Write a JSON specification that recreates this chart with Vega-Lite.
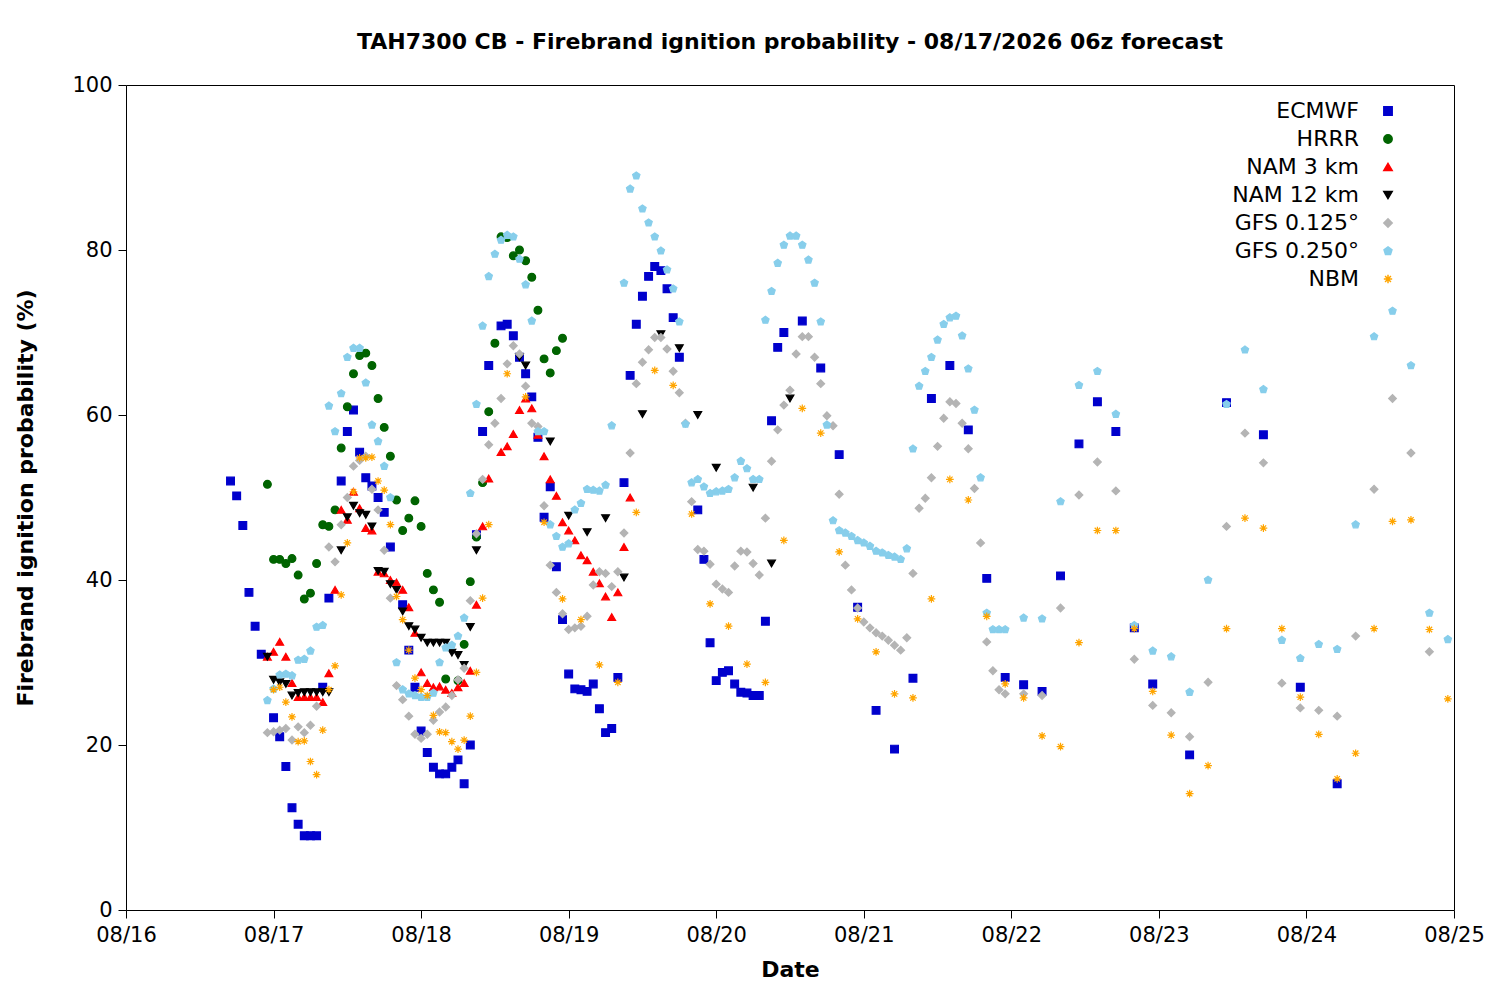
{
  "$schema": "https://vega.github.io/schema/vega-lite/v6.json",
  "width": 1328,
  "height": 825,
  "autosize": {"type": "none"},
  "padding": {"left": 126, "top": 85, "right": 46, "bottom": 90},
  "background": "white",
  "config": {
    "font": "DejaVu Sans",
    "view": {"stroke": "black", "strokeWidth": 1},
    "axis": {"grid": false, "domain": false, "labelFontSize": 21, "titleFontSize": 22, "titleFontWeight": "bold", "labelColor": "black", "titleColor": "black", "tickColor": "black", "tickSize": 8, "labelPadding": 6, "labelFlush": false}
  },
  "title": {"text": "TAH7300 CB - Firebrand ignition probability - 08/17/2026 06z forecast", "fontSize": 22, "fontWeight": "bold", "offset": 20, "color": "black"},
  "data": {"values": [
    {"m":"ECMWF","h":17,"v":52},{"m":"ECMWF","h":18,"v":50.2},{"m":"ECMWF","h":19,"v":46.6},{"m":"ECMWF","h":20,"v":38.5},{"m":"ECMWF","h":21,"v":34.4},{"m":"ECMWF","h":22,"v":31},{"m":"ECMWF","h":24,"v":23.3},{"m":"ECMWF","h":25,"v":21},{"m":"ECMWF","h":26,"v":17.4},{"m":"ECMWF","h":27,"v":12.4},{"m":"ECMWF","h":28,"v":10.4},{"m":"ECMWF","h":29,"v":9},{"m":"ECMWF","h":30,"v":9},{"m":"ECMWF","h":31,"v":9},{"m":"ECMWF","h":32,"v":27},{"m":"ECMWF","h":33,"v":37.8},{"m":"ECMWF","h":35,"v":52},{"m":"ECMWF","h":36,"v":58},{"m":"ECMWF","h":37,"v":60.6},{"m":"ECMWF","h":38,"v":55.5},{"m":"ECMWF","h":39,"v":52.4},{"m":"ECMWF","h":40,"v":51.4},{"m":"ECMWF","h":41,"v":50},{"m":"ECMWF","h":42,"v":48.2},{"m":"ECMWF","h":43,"v":44},{"m":"ECMWF","h":45,"v":37},{"m":"ECMWF","h":46,"v":31.5},{"m":"ECMWF","h":47,"v":27},{"m":"ECMWF","h":48,"v":21.7},{"m":"ECMWF","h":49,"v":19.1},{"m":"ECMWF","h":50,"v":17.3},{"m":"ECMWF","h":51,"v":16.5},{"m":"ECMWF","h":52,"v":16.5},{"m":"ECMWF","h":53,"v":17.3},{"m":"ECMWF","h":54,"v":18.2},{"m":"ECMWF","h":55,"v":15.3},{"m":"ECMWF","h":56,"v":20},{"m":"ECMWF","h":57,"v":45.5},{"m":"ECMWF","h":58,"v":58},{"m":"ECMWF","h":59,"v":66},{"m":"ECMWF","h":61,"v":70.8},{"m":"ECMWF","h":62,"v":71},{"m":"ECMWF","h":63,"v":69.6},{"m":"ECMWF","h":64,"v":67},{"m":"ECMWF","h":65,"v":65},{"m":"ECMWF","h":66,"v":62.2},{"m":"ECMWF","h":67,"v":57.3},{"m":"ECMWF","h":68,"v":47.6},{"m":"ECMWF","h":69,"v":51.3},{"m":"ECMWF","h":70,"v":41.6},{"m":"ECMWF","h":71,"v":35.2},{"m":"ECMWF","h":72,"v":28.6},{"m":"ECMWF","h":73,"v":26.8},{"m":"ECMWF","h":74,"v":26.7},{"m":"ECMWF","h":75,"v":26.5},{"m":"ECMWF","h":76,"v":27.4},{"m":"ECMWF","h":77,"v":24.4},{"m":"ECMWF","h":78,"v":21.5},{"m":"ECMWF","h":79,"v":22},{"m":"ECMWF","h":80,"v":28.2},{"m":"ECMWF","h":81,"v":51.8},{"m":"ECMWF","h":82,"v":64.8},{"m":"ECMWF","h":83,"v":71},{"m":"ECMWF","h":84,"v":74.4},{"m":"ECMWF","h":85,"v":76.8},{"m":"ECMWF","h":86,"v":78},{"m":"ECMWF","h":87,"v":77.5},{"m":"ECMWF","h":88,"v":75.3},{"m":"ECMWF","h":89,"v":71.8},{"m":"ECMWF","h":90,"v":67},{"m":"ECMWF","h":93,"v":48.5},{"m":"ECMWF","h":94,"v":42.5},{"m":"ECMWF","h":95,"v":32.4},{"m":"ECMWF","h":96,"v":27.8},{"m":"ECMWF","h":97,"v":28.8},{"m":"ECMWF","h":98,"v":29},{"m":"ECMWF","h":99,"v":27.4},{"m":"ECMWF","h":100,"v":26.4},{"m":"ECMWF","h":101,"v":26.3},{"m":"ECMWF","h":102,"v":26},{"m":"ECMWF","h":103,"v":26},{"m":"ECMWF","h":104,"v":35},{"m":"ECMWF","h":105,"v":59.3},{"m":"ECMWF","h":106,"v":68.2},{"m":"ECMWF","h":107,"v":70},{"m":"ECMWF","h":110,"v":71.4},{"m":"ECMWF","h":113,"v":65.7},{"m":"ECMWF","h":116,"v":55.2},{"m":"ECMWF","h":119,"v":36.7},{"m":"ECMWF","h":122,"v":24.2},{"m":"ECMWF","h":125,"v":19.5},{"m":"ECMWF","h":128,"v":28.1},{"m":"ECMWF","h":131,"v":62},{"m":"ECMWF","h":134,"v":66},{"m":"ECMWF","h":137,"v":58.2},{"m":"ECMWF","h":140,"v":40.2},{"m":"ECMWF","h":143,"v":28.2},{"m":"ECMWF","h":146,"v":27.3},{"m":"ECMWF","h":149,"v":26.5},{"m":"ECMWF","h":152,"v":40.5},{"m":"ECMWF","h":155,"v":56.5},{"m":"ECMWF","h":158,"v":61.6},{"m":"ECMWF","h":161,"v":58},{"m":"ECMWF","h":164,"v":34.2},{"m":"ECMWF","h":167,"v":27.4},{"m":"ECMWF","h":173,"v":18.8},{"m":"ECMWF","h":179,"v":61.5},{"m":"ECMWF","h":185,"v":57.6},{"m":"ECMWF","h":191,"v":27},{"m":"ECMWF","h":197,"v":15.3},

    {"m":"HRRR","h":23,"v":51.6},{"m":"HRRR","h":24,"v":42.5},{"m":"HRRR","h":25,"v":42.5},{"m":"HRRR","h":26,"v":42},{"m":"HRRR","h":27,"v":42.6},{"m":"HRRR","h":28,"v":40.6},{"m":"HRRR","h":29,"v":37.7},{"m":"HRRR","h":30,"v":38.4},{"m":"HRRR","h":31,"v":42},{"m":"HRRR","h":32,"v":46.7},{"m":"HRRR","h":33,"v":46.5},{"m":"HRRR","h":34,"v":48.5},{"m":"HRRR","h":35,"v":56},{"m":"HRRR","h":36,"v":61},{"m":"HRRR","h":37,"v":65},{"m":"HRRR","h":38,"v":67.2},{"m":"HRRR","h":39,"v":67.5},{"m":"HRRR","h":40,"v":66},{"m":"HRRR","h":41,"v":62},{"m":"HRRR","h":42,"v":58.5},{"m":"HRRR","h":43,"v":55},{"m":"HRRR","h":44,"v":49.7},{"m":"HRRR","h":45,"v":46},{"m":"HRRR","h":46,"v":47.5},{"m":"HRRR","h":47,"v":49.6},{"m":"HRRR","h":48,"v":46.5},{"m":"HRRR","h":49,"v":40.8},{"m":"HRRR","h":50,"v":38.8},{"m":"HRRR","h":51,"v":37.3},{"m":"HRRR","h":52,"v":28},{"m":"HRRR","h":54,"v":27.8},{"m":"HRRR","h":55,"v":32.2},{"m":"HRRR","h":56,"v":39.8},{"m":"HRRR","h":57,"v":45.2},{"m":"HRRR","h":58,"v":51.8},{"m":"HRRR","h":59,"v":60.4},{"m":"HRRR","h":60,"v":68.7},{"m":"HRRR","h":61,"v":81.6},{"m":"HRRR","h":62,"v":81.5},{"m":"HRRR","h":63,"v":79.3},{"m":"HRRR","h":64,"v":80},{"m":"HRRR","h":65,"v":78.7},{"m":"HRRR","h":66,"v":76.7},{"m":"HRRR","h":67,"v":72.7},{"m":"HRRR","h":68,"v":66.8},{"m":"HRRR","h":69,"v":65.1},{"m":"HRRR","h":70,"v":67.8},{"m":"HRRR","h":71,"v":69.3},

    {"m":"NAM 3 km","h":23,"v":30.7},{"m":"NAM 3 km","h":24,"v":31.3},{"m":"NAM 3 km","h":25,"v":32.5},{"m":"NAM 3 km","h":26,"v":30.7},{"m":"NAM 3 km","h":27,"v":27.5},{"m":"NAM 3 km","h":28,"v":25.8},{"m":"NAM 3 km","h":29,"v":25.8},{"m":"NAM 3 km","h":30,"v":25.8},{"m":"NAM 3 km","h":31,"v":25.8},{"m":"NAM 3 km","h":32,"v":25.2},{"m":"NAM 3 km","h":33,"v":28.7},{"m":"NAM 3 km","h":34,"v":38.8},{"m":"NAM 3 km","h":35,"v":48.5},{"m":"NAM 3 km","h":36,"v":47.3},{"m":"NAM 3 km","h":37,"v":50.7},{"m":"NAM 3 km","h":38,"v":48.7},{"m":"NAM 3 km","h":39,"v":46.3},{"m":"NAM 3 km","h":40,"v":46},{"m":"NAM 3 km","h":41,"v":41},{"m":"NAM 3 km","h":42,"v":40.8},{"m":"NAM 3 km","h":43,"v":40},{"m":"NAM 3 km","h":44,"v":39.7},{"m":"NAM 3 km","h":45,"v":38.8},{"m":"NAM 3 km","h":46,"v":36.7},{"m":"NAM 3 km","h":47,"v":33.6},{"m":"NAM 3 km","h":48,"v":28.8},{"m":"NAM 3 km","h":49,"v":27.5},{"m":"NAM 3 km","h":50,"v":27},{"m":"NAM 3 km","h":51,"v":27.1},{"m":"NAM 3 km","h":52,"v":26.7},{"m":"NAM 3 km","h":53,"v":26.3},{"m":"NAM 3 km","h":54,"v":27},{"m":"NAM 3 km","h":55,"v":27.5},{"m":"NAM 3 km","h":56,"v":29},{"m":"NAM 3 km","h":57,"v":37},{"m":"NAM 3 km","h":58,"v":46.5},{"m":"NAM 3 km","h":59,"v":52.3},{"m":"NAM 3 km","h":61,"v":55.5},{"m":"NAM 3 km","h":62,"v":56.2},{"m":"NAM 3 km","h":63,"v":57.7},{"m":"NAM 3 km","h":64,"v":60.6},{"m":"NAM 3 km","h":65,"v":62},{"m":"NAM 3 km","h":66,"v":60.8},{"m":"NAM 3 km","h":67,"v":57.6},{"m":"NAM 3 km","h":68,"v":55},{"m":"NAM 3 km","h":69,"v":52.2},{"m":"NAM 3 km","h":70,"v":50.2},{"m":"NAM 3 km","h":71,"v":47},{"m":"NAM 3 km","h":72,"v":46},{"m":"NAM 3 km","h":73,"v":44.8},{"m":"NAM 3 km","h":74,"v":43},{"m":"NAM 3 km","h":75,"v":42.4},{"m":"NAM 3 km","h":76,"v":41},{"m":"NAM 3 km","h":77,"v":39.6},{"m":"NAM 3 km","h":78,"v":38},{"m":"NAM 3 km","h":79,"v":35.5},{"m":"NAM 3 km","h":80,"v":38.5},{"m":"NAM 3 km","h":81,"v":44},{"m":"NAM 3 km","h":82,"v":50},

    {"m":"NAM 12 km","h":23,"v":30.7},{"m":"NAM 12 km","h":24,"v":27.9},{"m":"NAM 12 km","h":25,"v":27.6},{"m":"NAM 12 km","h":26,"v":27.4},{"m":"NAM 12 km","h":27,"v":26},{"m":"NAM 12 km","h":28,"v":26.3},{"m":"NAM 12 km","h":29,"v":26.4},{"m":"NAM 12 km","h":30,"v":26.4},{"m":"NAM 12 km","h":31,"v":26.4},{"m":"NAM 12 km","h":32,"v":26.4},{"m":"NAM 12 km","h":33,"v":26.4},{"m":"NAM 12 km","h":35,"v":43.6},{"m":"NAM 12 km","h":36,"v":47.6},{"m":"NAM 12 km","h":37,"v":49},{"m":"NAM 12 km","h":38,"v":48.1},{"m":"NAM 12 km","h":39,"v":47.9},{"m":"NAM 12 km","h":40,"v":46.5},{"m":"NAM 12 km","h":41,"v":41.1},{"m":"NAM 12 km","h":42,"v":41},{"m":"NAM 12 km","h":43,"v":39.5},{"m":"NAM 12 km","h":44,"v":38.8},{"m":"NAM 12 km","h":45,"v":36.2},{"m":"NAM 12 km","h":46,"v":34.4},{"m":"NAM 12 km","h":47,"v":34},{"m":"NAM 12 km","h":48,"v":33},{"m":"NAM 12 km","h":49,"v":32.4},{"m":"NAM 12 km","h":50,"v":32.4},{"m":"NAM 12 km","h":51,"v":32.4},{"m":"NAM 12 km","h":52,"v":32.4},{"m":"NAM 12 km","h":53,"v":31.2},{"m":"NAM 12 km","h":54,"v":30.9},{"m":"NAM 12 km","h":55,"v":29.7},{"m":"NAM 12 km","h":56,"v":34.3},{"m":"NAM 12 km","h":57,"v":43.6},{"m":"NAM 12 km","h":64,"v":67},{"m":"NAM 12 km","h":65,"v":66},{"m":"NAM 12 km","h":69,"v":56.8},{"m":"NAM 12 km","h":72,"v":47.8},{"m":"NAM 12 km","h":75,"v":45.8},{"m":"NAM 12 km","h":78,"v":47.5},{"m":"NAM 12 km","h":81,"v":40.3},{"m":"NAM 12 km","h":84,"v":60.1},{"m":"NAM 12 km","h":87,"v":69.8},{"m":"NAM 12 km","h":90,"v":68.1},{"m":"NAM 12 km","h":93,"v":60},{"m":"NAM 12 km","h":96,"v":53.6},{"m":"NAM 12 km","h":102,"v":51.2},{"m":"NAM 12 km","h":105,"v":42},{"m":"NAM 12 km","h":108,"v":62},

    {"m":"GFS 0.125°","h":23,"v":21.5},{"m":"GFS 0.125°","h":24,"v":21.6},{"m":"GFS 0.125°","h":25,"v":21.8},{"m":"GFS 0.125°","h":26,"v":22},{"m":"GFS 0.125°","h":27,"v":20.6},{"m":"GFS 0.125°","h":28,"v":22.2},{"m":"GFS 0.125°","h":29,"v":21.5},{"m":"GFS 0.125°","h":30,"v":22.4},{"m":"GFS 0.125°","h":31,"v":24.7},
    {"m":"GFS 0.125°","h":33,"v":44},{"m":"GFS 0.125°","h":34,"v":42.2},{"m":"GFS 0.125°","h":35,"v":46.7},{"m":"GFS 0.125°","h":36,"v":50},{"m":"GFS 0.125°","h":37,"v":53.8},{"m":"GFS 0.125°","h":38,"v":54.5},{"m":"GFS 0.125°","h":39,"v":55},{"m":"GFS 0.125°","h":40,"v":51},{"m":"GFS 0.125°","h":41,"v":48.5},{"m":"GFS 0.125°","h":42,"v":43.6},
    {"m":"GFS 0.125°","h":43,"v":37.8},{"m":"GFS 0.125°","h":44,"v":27.2},{"m":"GFS 0.125°","h":45,"v":25.5},{"m":"GFS 0.125°","h":46,"v":23.5},{"m":"GFS 0.125°","h":47,"v":21.3},{"m":"GFS 0.125°","h":48,"v":20.8},{"m":"GFS 0.125°","h":49,"v":21.3},{"m":"GFS 0.125°","h":50,"v":23},{"m":"GFS 0.125°","h":51,"v":24},{"m":"GFS 0.125°","h":52,"v":24.6},
    {"m":"GFS 0.125°","h":53,"v":26},{"m":"GFS 0.125°","h":54,"v":27.9},{"m":"GFS 0.125°","h":55,"v":29.3},{"m":"GFS 0.125°","h":56,"v":37.5},{"m":"GFS 0.125°","h":57,"v":45.6},{"m":"GFS 0.125°","h":58,"v":52.2},{"m":"GFS 0.125°","h":59,"v":56.4},{"m":"GFS 0.125°","h":60,"v":59},{"m":"GFS 0.125°","h":61,"v":62},{"m":"GFS 0.125°","h":62,"v":66.2},
    {"m":"GFS 0.125°","h":63,"v":68.4},{"m":"GFS 0.125°","h":64,"v":67.4},{"m":"GFS 0.125°","h":65,"v":63.5},{"m":"GFS 0.125°","h":66,"v":59},{"m":"GFS 0.125°","h":67,"v":58.6},{"m":"GFS 0.125°","h":68,"v":49},{"m":"GFS 0.125°","h":69,"v":41.8},{"m":"GFS 0.125°","h":70,"v":38.5},{"m":"GFS 0.125°","h":71,"v":35.9},{"m":"GFS 0.125°","h":72,"v":34},
    {"m":"GFS 0.125°","h":73,"v":34.2},{"m":"GFS 0.125°","h":74,"v":34.4},{"m":"GFS 0.125°","h":75,"v":35.6},{"m":"GFS 0.125°","h":76,"v":39.4},{"m":"GFS 0.125°","h":77,"v":41},{"m":"GFS 0.125°","h":78,"v":40.8},{"m":"GFS 0.125°","h":79,"v":39.2},{"m":"GFS 0.125°","h":80,"v":41},{"m":"GFS 0.125°","h":81,"v":45.7},{"m":"GFS 0.125°","h":82,"v":55.4},
    {"m":"GFS 0.125°","h":83,"v":63.8},{"m":"GFS 0.125°","h":84,"v":66.4},{"m":"GFS 0.125°","h":85,"v":67.9},{"m":"GFS 0.125°","h":86,"v":69.4},{"m":"GFS 0.125°","h":87,"v":69.4},{"m":"GFS 0.125°","h":88,"v":68},{"m":"GFS 0.125°","h":89,"v":65.3},{"m":"GFS 0.125°","h":90,"v":62.7},{"m":"GFS 0.125°","h":91,"v":59},{"m":"GFS 0.125°","h":92,"v":49.5},
    {"m":"GFS 0.125°","h":93,"v":43.7},{"m":"GFS 0.125°","h":94,"v":43.5},{"m":"GFS 0.125°","h":95,"v":41.9},{"m":"GFS 0.125°","h":96,"v":39.5},{"m":"GFS 0.125°","h":97,"v":38.9},{"m":"GFS 0.125°","h":98,"v":38.5},{"m":"GFS 0.125°","h":99,"v":41.7},{"m":"GFS 0.125°","h":100,"v":43.5},{"m":"GFS 0.125°","h":101,"v":43.4},{"m":"GFS 0.125°","h":102,"v":42},
    {"m":"GFS 0.125°","h":103,"v":40.6},{"m":"GFS 0.125°","h":104,"v":47.5},{"m":"GFS 0.125°","h":105,"v":54.4},{"m":"GFS 0.125°","h":106,"v":58.2},{"m":"GFS 0.125°","h":107,"v":61.2},{"m":"GFS 0.125°","h":108,"v":63},{"m":"GFS 0.125°","h":109,"v":67.4},{"m":"GFS 0.125°","h":110,"v":69.5},{"m":"GFS 0.125°","h":111,"v":69.5},{"m":"GFS 0.125°","h":112,"v":67},
    {"m":"GFS 0.125°","h":113,"v":63.8},{"m":"GFS 0.125°","h":114,"v":59.9},{"m":"GFS 0.125°","h":115,"v":58.7},{"m":"GFS 0.125°","h":116,"v":50.4},{"m":"GFS 0.125°","h":117,"v":41.8},{"m":"GFS 0.125°","h":118,"v":38.8},{"m":"GFS 0.125°","h":119,"v":36.6},{"m":"GFS 0.125°","h":120,"v":34.9},{"m":"GFS 0.125°","h":121,"v":34.2},{"m":"GFS 0.125°","h":122,"v":33.6},
    {"m":"GFS 0.125°","h":123,"v":33.2},{"m":"GFS 0.125°","h":124,"v":32.7},{"m":"GFS 0.125°","h":125,"v":32.1},{"m":"GFS 0.125°","h":126,"v":31.5},{"m":"GFS 0.125°","h":127,"v":33},{"m":"GFS 0.125°","h":128,"v":40.8},{"m":"GFS 0.125°","h":129,"v":48.7},{"m":"GFS 0.125°","h":130,"v":49.9},{"m":"GFS 0.125°","h":131,"v":52.4},{"m":"GFS 0.125°","h":132,"v":56.2},
    {"m":"GFS 0.125°","h":133,"v":59.6},{"m":"GFS 0.125°","h":134,"v":61.6},{"m":"GFS 0.125°","h":135,"v":61.4},{"m":"GFS 0.125°","h":136,"v":59},{"m":"GFS 0.125°","h":137,"v":55.9},{"m":"GFS 0.125°","h":138,"v":51.1},{"m":"GFS 0.125°","h":139,"v":44.5},
    {"m":"GFS 0.125°","h":140,"v":32.5},{"m":"GFS 0.125°","h":141,"v":29},{"m":"GFS 0.125°","h":142,"v":26.7},{"m":"GFS 0.125°","h":143,"v":26.2},{"m":"GFS 0.125°","h":146,"v":26.2},{"m":"GFS 0.125°","h":149,"v":26},{"m":"GFS 0.125°","h":152,"v":36.6},{"m":"GFS 0.125°","h":155,"v":50.3},{"m":"GFS 0.125°","h":158,"v":54.3},{"m":"GFS 0.125°","h":161,"v":50.8},{"m":"GFS 0.125°","h":164,"v":30.4},{"m":"GFS 0.125°","h":167,"v":24.8},{"m":"GFS 0.125°","h":170,"v":23.9},{"m":"GFS 0.125°","h":173,"v":21},{"m":"GFS 0.125°","h":176,"v":27.6},{"m":"GFS 0.125°","h":179,"v":46.5},{"m":"GFS 0.125°","h":182,"v":57.8},{"m":"GFS 0.125°","h":185,"v":54.2},{"m":"GFS 0.125°","h":188,"v":27.5},{"m":"GFS 0.125°","h":191,"v":24.5},{"m":"GFS 0.125°","h":194,"v":24.2},{"m":"GFS 0.125°","h":197,"v":23.5},{"m":"GFS 0.125°","h":200,"v":33.2},{"m":"GFS 0.125°","h":203,"v":51},{"m":"GFS 0.125°","h":206,"v":62},{"m":"GFS 0.125°","h":209,"v":55.4},{"m":"GFS 0.125°","h":212,"v":31.3},

    {"m":"GFS 0.250°","h":23,"v":25.4},{"m":"GFS 0.250°","h":24,"v":26.8},{"m":"GFS 0.250°","h":25,"v":28.5},{"m":"GFS 0.250°","h":26,"v":28.6},{"m":"GFS 0.250°","h":27,"v":28.4},{"m":"GFS 0.250°","h":28,"v":30.3},{"m":"GFS 0.250°","h":29,"v":30.4},{"m":"GFS 0.250°","h":30,"v":31.4},{"m":"GFS 0.250°","h":31,"v":34.3},{"m":"GFS 0.250°","h":32,"v":34.5},
    {"m":"GFS 0.250°","h":33,"v":61.1},{"m":"GFS 0.250°","h":34,"v":58},{"m":"GFS 0.250°","h":35,"v":62.6},{"m":"GFS 0.250°","h":36,"v":67},{"m":"GFS 0.250°","h":37,"v":68.1},{"m":"GFS 0.250°","h":38,"v":68.1},{"m":"GFS 0.250°","h":39,"v":63.9},{"m":"GFS 0.250°","h":40,"v":58.8},{"m":"GFS 0.250°","h":41,"v":56.8},{"m":"GFS 0.250°","h":42,"v":53.8},
    {"m":"GFS 0.250°","h":43,"v":50},{"m":"GFS 0.250°","h":44,"v":30},{"m":"GFS 0.250°","h":45,"v":26.7},{"m":"GFS 0.250°","h":46,"v":26.2},{"m":"GFS 0.250°","h":47,"v":26},{"m":"GFS 0.250°","h":48,"v":25.8},{"m":"GFS 0.250°","h":49,"v":25.8},{"m":"GFS 0.250°","h":50,"v":26.3},{"m":"GFS 0.250°","h":51,"v":30},{"m":"GFS 0.250°","h":52,"v":31.8},
    {"m":"GFS 0.250°","h":53,"v":32.1},{"m":"GFS 0.250°","h":54,"v":33.2},{"m":"GFS 0.250°","h":55,"v":35.4},{"m":"GFS 0.250°","h":56,"v":50.5},{"m":"GFS 0.250°","h":57,"v":61.3},{"m":"GFS 0.250°","h":58,"v":70.8},{"m":"GFS 0.250°","h":59,"v":76.8},{"m":"GFS 0.250°","h":60,"v":79.5},{"m":"GFS 0.250°","h":61,"v":81.2},{"m":"GFS 0.250°","h":62,"v":81.8},
    {"m":"GFS 0.250°","h":63,"v":81.6},{"m":"GFS 0.250°","h":64,"v":78.9},{"m":"GFS 0.250°","h":65,"v":75.8},{"m":"GFS 0.250°","h":66,"v":71.4},{"m":"GFS 0.250°","h":67,"v":58},{"m":"GFS 0.250°","h":68,"v":58},{"m":"GFS 0.250°","h":69,"v":46.7},{"m":"GFS 0.250°","h":70,"v":45.3},{"m":"GFS 0.250°","h":71,"v":44},{"m":"GFS 0.250°","h":72,"v":44.4},
    {"m":"GFS 0.250°","h":73,"v":48.5},{"m":"GFS 0.250°","h":74,"v":49.3},{"m":"GFS 0.250°","h":75,"v":51},{"m":"GFS 0.250°","h":76,"v":50.9},{"m":"GFS 0.250°","h":77,"v":50.8},{"m":"GFS 0.250°","h":78,"v":51.5},{"m":"GFS 0.250°","h":79,"v":58.7},
    {"m":"GFS 0.250°","h":81,"v":76},{"m":"GFS 0.250°","h":82,"v":87.4},{"m":"GFS 0.250°","h":83,"v":89},{"m":"GFS 0.250°","h":84,"v":85},{"m":"GFS 0.250°","h":85,"v":83.3},{"m":"GFS 0.250°","h":86,"v":81.6},{"m":"GFS 0.250°","h":87,"v":79.9},{"m":"GFS 0.250°","h":88,"v":77.6},{"m":"GFS 0.250°","h":89,"v":75.3},{"m":"GFS 0.250°","h":90,"v":71.3},
    {"m":"GFS 0.250°","h":91,"v":58.9},{"m":"GFS 0.250°","h":92,"v":51.8},{"m":"GFS 0.250°","h":93,"v":52.2},{"m":"GFS 0.250°","h":94,"v":51.3},{"m":"GFS 0.250°","h":95,"v":50.5},{"m":"GFS 0.250°","h":96,"v":50.7},{"m":"GFS 0.250°","h":97,"v":50.8},{"m":"GFS 0.250°","h":98,"v":51},{"m":"GFS 0.250°","h":99,"v":52.4},{"m":"GFS 0.250°","h":100,"v":54.4},
    {"m":"GFS 0.250°","h":101,"v":53.5},{"m":"GFS 0.250°","h":102,"v":52.2},{"m":"GFS 0.250°","h":103,"v":52.2},{"m":"GFS 0.250°","h":104,"v":71.5},{"m":"GFS 0.250°","h":105,"v":75},{"m":"GFS 0.250°","h":106,"v":78.4},{"m":"GFS 0.250°","h":107,"v":80.6},{"m":"GFS 0.250°","h":108,"v":81.7},{"m":"GFS 0.250°","h":109,"v":81.7},{"m":"GFS 0.250°","h":110,"v":80.6},
    {"m":"GFS 0.250°","h":111,"v":78.8},{"m":"GFS 0.250°","h":112,"v":76},{"m":"GFS 0.250°","h":113,"v":71.3},{"m":"GFS 0.250°","h":114,"v":58.8},{"m":"GFS 0.250°","h":115,"v":47.2},{"m":"GFS 0.250°","h":116,"v":46},{"m":"GFS 0.250°","h":117,"v":45.7},{"m":"GFS 0.250°","h":118,"v":45.3},{"m":"GFS 0.250°","h":119,"v":44.8},{"m":"GFS 0.250°","h":120,"v":44.5},
    {"m":"GFS 0.250°","h":121,"v":44.1},{"m":"GFS 0.250°","h":122,"v":43.5},{"m":"GFS 0.250°","h":123,"v":43.3},{"m":"GFS 0.250°","h":124,"v":43},{"m":"GFS 0.250°","h":125,"v":42.8},{"m":"GFS 0.250°","h":126,"v":42.5},{"m":"GFS 0.250°","h":127,"v":43.8},{"m":"GFS 0.250°","h":128,"v":55.9},{"m":"GFS 0.250°","h":129,"v":63.5},{"m":"GFS 0.250°","h":130,"v":65.3},
    {"m":"GFS 0.250°","h":131,"v":67},{"m":"GFS 0.250°","h":132,"v":69.1},{"m":"GFS 0.250°","h":133,"v":71},{"m":"GFS 0.250°","h":134,"v":71.8},{"m":"GFS 0.250°","h":135,"v":72},{"m":"GFS 0.250°","h":136,"v":69.6},{"m":"GFS 0.250°","h":137,"v":65.6},{"m":"GFS 0.250°","h":138,"v":60.6},{"m":"GFS 0.250°","h":139,"v":52.4},
    {"m":"GFS 0.250°","h":140,"v":36},{"m":"GFS 0.250°","h":141,"v":34},{"m":"GFS 0.250°","h":142,"v":34},{"m":"GFS 0.250°","h":143,"v":34},{"m":"GFS 0.250°","h":146,"v":35.4},{"m":"GFS 0.250°","h":149,"v":35.3},{"m":"GFS 0.250°","h":152,"v":49.5},{"m":"GFS 0.250°","h":155,"v":63.6},{"m":"GFS 0.250°","h":158,"v":65.3},{"m":"GFS 0.250°","h":161,"v":60.1},{"m":"GFS 0.250°","h":164,"v":34.5},{"m":"GFS 0.250°","h":167,"v":31.4},{"m":"GFS 0.250°","h":170,"v":30.7},{"m":"GFS 0.250°","h":173,"v":26.4},{"m":"GFS 0.250°","h":176,"v":40},{"m":"GFS 0.250°","h":179,"v":61.3},{"m":"GFS 0.250°","h":182,"v":67.9},{"m":"GFS 0.250°","h":185,"v":63.1},{"m":"GFS 0.250°","h":188,"v":32.7},{"m":"GFS 0.250°","h":191,"v":30.5},{"m":"GFS 0.250°","h":194,"v":32.2},{"m":"GFS 0.250°","h":197,"v":31.6},{"m":"GFS 0.250°","h":200,"v":46.7},{"m":"GFS 0.250°","h":203,"v":69.5},{"m":"GFS 0.250°","h":206,"v":72.6},{"m":"GFS 0.250°","h":209,"v":66},{"m":"GFS 0.250°","h":212,"v":36},{"m":"GFS 0.250°","h":215,"v":32.8},

    {"m":"NBM","h":24,"v":26.7},{"m":"NBM","h":25,"v":27},{"m":"NBM","h":26,"v":25.2},{"m":"NBM","h":27,"v":23.4},{"m":"NBM","h":28,"v":20.4},{"m":"NBM","h":29,"v":20.5},{"m":"NBM","h":30,"v":18},{"m":"NBM","h":31,"v":16.4},{"m":"NBM","h":32,"v":21.8},{"m":"NBM","h":33,"v":26.7},{"m":"NBM","h":34,"v":29.6},{"m":"NBM","h":35,"v":38.2},{"m":"NBM","h":36,"v":44.5},{"m":"NBM","h":37,"v":50.7},{"m":"NBM","h":38,"v":54.8},{"m":"NBM","h":39,"v":54.8},{"m":"NBM","h":40,"v":54.9},{"m":"NBM","h":41,"v":52},{"m":"NBM","h":42,"v":50.9},{"m":"NBM","h":43,"v":46.7},{"m":"NBM","h":44,"v":38},{"m":"NBM","h":45,"v":35.2},{"m":"NBM","h":46,"v":31.5},{"m":"NBM","h":47,"v":28.1},{"m":"NBM","h":48,"v":26.7},{"m":"NBM","h":49,"v":26},{"m":"NBM","h":50,"v":23.6},{"m":"NBM","h":51,"v":21.6},{"m":"NBM","h":52,"v":21.5},{"m":"NBM","h":53,"v":20.4},{"m":"NBM","h":54,"v":19.5},{"m":"NBM","h":55,"v":20.6},{"m":"NBM","h":56,"v":23.5},{"m":"NBM","h":57,"v":28.8},{"m":"NBM","h":58,"v":37.8},{"m":"NBM","h":59,"v":46.7},
    {"m":"NBM","h":62,"v":65},{"m":"NBM","h":65,"v":62.2},{"m":"NBM","h":68,"v":47},{"m":"NBM","h":71,"v":37.7},{"m":"NBM","h":74,"v":35.2},{"m":"NBM","h":77,"v":29.7},{"m":"NBM","h":80,"v":27.6},{"m":"NBM","h":83,"v":48.2},{"m":"NBM","h":86,"v":65.4},{"m":"NBM","h":89,"v":63.6},{"m":"NBM","h":92,"v":48},{"m":"NBM","h":95,"v":37.1},{"m":"NBM","h":98,"v":34.4},{"m":"NBM","h":101,"v":29.8},{"m":"NBM","h":104,"v":27.6},{"m":"NBM","h":107,"v":44.8},{"m":"NBM","h":110,"v":60.8},{"m":"NBM","h":113,"v":57.8},{"m":"NBM","h":116,"v":43.4},{"m":"NBM","h":119,"v":35.3},{"m":"NBM","h":122,"v":31.3},{"m":"NBM","h":125,"v":26.2},{"m":"NBM","h":128,"v":25.7},{"m":"NBM","h":131,"v":37.7},{"m":"NBM","h":134,"v":52.2},{"m":"NBM","h":137,"v":49.7},{"m":"NBM","h":140,"v":35.6},{"m":"NBM","h":143,"v":27.4},{"m":"NBM","h":146,"v":25.7},{"m":"NBM","h":149,"v":21.1},{"m":"NBM","h":152,"v":19.8},{"m":"NBM","h":155,"v":32.4},{"m":"NBM","h":158,"v":46},{"m":"NBM","h":161,"v":46},{"m":"NBM","h":164,"v":34.1},{"m":"NBM","h":167,"v":26.5},{"m":"NBM","h":170,"v":21.2},{"m":"NBM","h":173,"v":14.1},{"m":"NBM","h":176,"v":17.5},{"m":"NBM","h":179,"v":34.1},{"m":"NBM","h":182,"v":47.5},{"m":"NBM","h":185,"v":46.3},{"m":"NBM","h":188,"v":34.1},{"m":"NBM","h":191,"v":25.8},{"m":"NBM","h":194,"v":21.3},{"m":"NBM","h":197,"v":15.9},{"m":"NBM","h":200,"v":19},{"m":"NBM","h":203,"v":34.1},{"m":"NBM","h":206,"v":47.1},{"m":"NBM","h":209,"v":47.3},{"m":"NBM","h":212,"v":34},{"m":"NBM","h":215,"v":25.6}
  ]},
  "mark": {"type": "point", "filled": true, "size": 60, "strokeWidth": 1.2, "opacity": 1},
  "encoding": {
    "x": {"field": "h", "type": "quantitative", "title": "Date",
      "scale": {"domain": [0, 216], "nice": false, "zero": false},
      "axis": {"values": [0, 24, 48, 72, 96, 120, 144, 168, 192, 216], "labelExpr": "'08/' + (16 + datum.value / 24)", "titlePadding": 14}},
    "y": {"field": "v", "type": "quantitative", "title": "Firebrand ignition probability (%)",
      "scale": {"domain": [0, 100], "nice": false},
      "axis": {"values": [0, 20, 40, 60, 80, 100], "titlePadding": 34}},
    "color": {"field": "m", "type": "nominal", "title": null,
      "scale": {"domain": ["ECMWF", "HRRR", "NAM 3 km", "NAM 12 km", "GFS 0.125°", "GFS 0.250°", "NBM"],
        "range": ["#0000cc", "#006400", "#ff0000", "#000000", "#b4b4b4", "#87ceeb", "#ffa500"]},
      "legend": {"orient": "none", "legendX": 1251, "legendY": 15, "labelFontSize": 22, "labelColor": "black",
        "labelAlign": "right", "labelOffset": -40, "symbolSize": 70, "rowPadding": 6, "labelLimit": 300,
        "encode": {"symbols": {"update": {"stroke": {"scale": "color", "field": "value"}, "strokeWidth": {"value": 1.2}}}}}},
    "stroke": {"field": "m", "type": "nominal", "legend": null,
      "scale": {"domain": ["ECMWF", "HRRR", "NAM 3 km", "NAM 12 km", "GFS 0.125°", "GFS 0.250°", "NBM"],
        "range": ["#0000cc", "#006400", "#ff0000", "#000000", "#b4b4b4", "#87ceeb", "#ffa500"]}},
    "shape": {"field": "m", "type": "nominal", "title": null,
      "scale": {"domain": ["ECMWF", "HRRR", "NAM 3 km", "NAM 12 km", "GFS 0.125°", "GFS 0.250°", "NBM"],
        "range": ["square", "circle", "triangle-up", "triangle-down", "diamond", "M0,-1L0.95,-0.31L0.59,0.81L-0.59,0.81L-0.95,-0.31Z", "M-1,0L1,0M0,-1L0,1M-0.7,-0.7L0.7,0.7M-0.7,0.7L0.7,-0.7"]}}
  }
}
